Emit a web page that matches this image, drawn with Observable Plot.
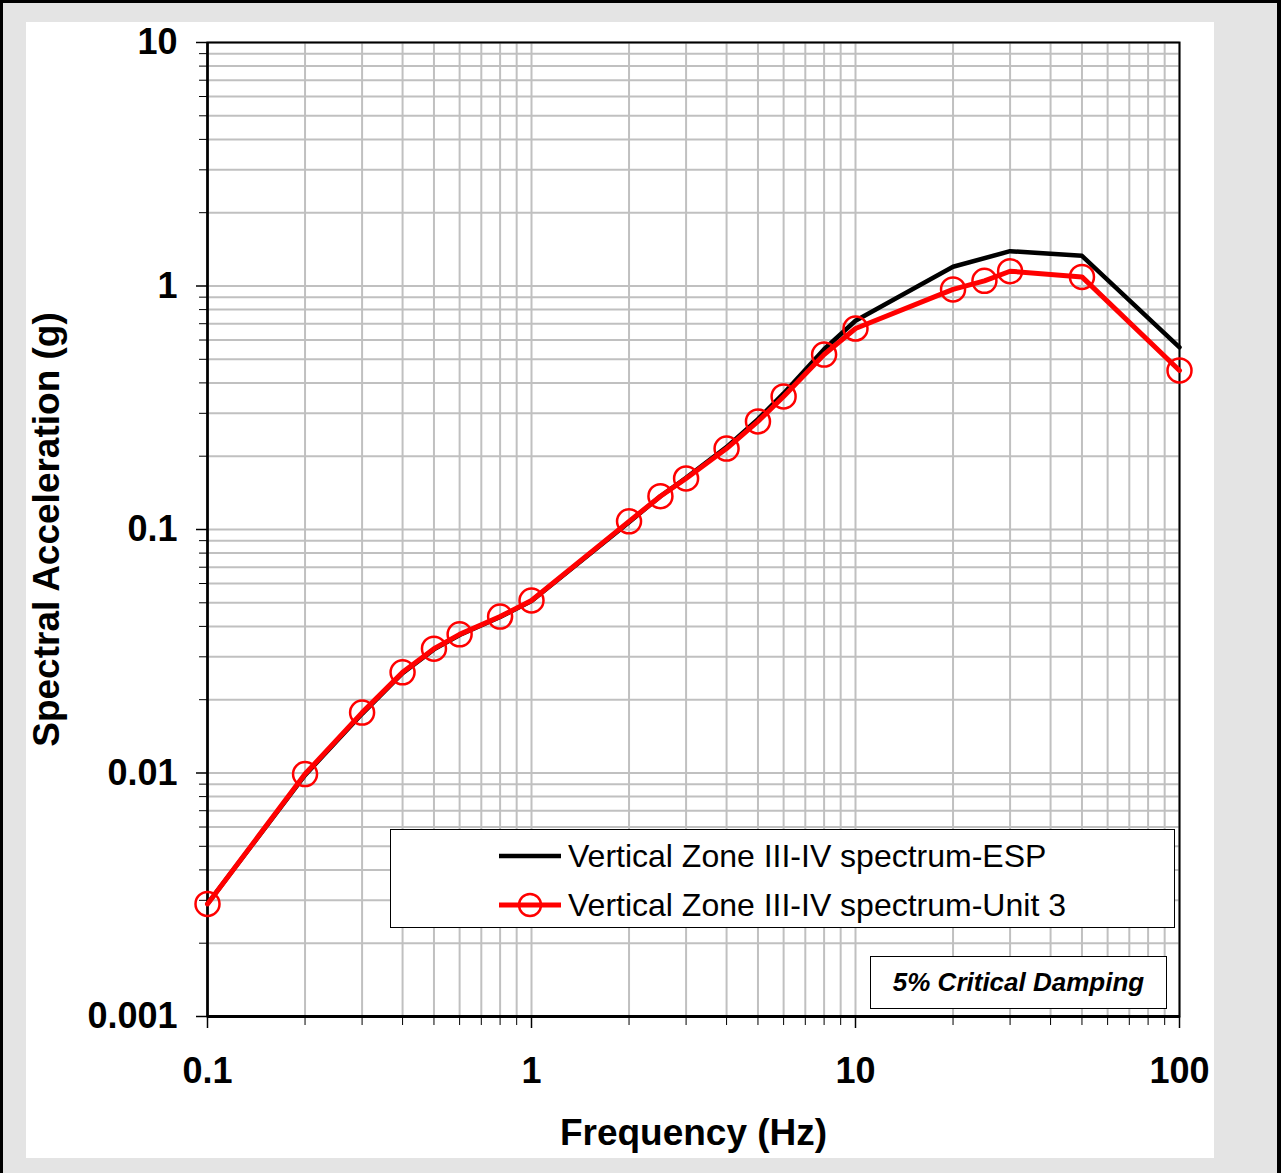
<!DOCTYPE html>
<html>
<head>
<meta charset="utf-8">
<script src="https://cdn.jsdelivr.net/npm/d3@7"></script>
<script src="https://cdn.jsdelivr.net/npm/@observablehq/plot@0.6"></script>
<style>
  html, body { margin: 0; padding: 0; background: #ffffff; }
  #page { position: relative; width: 1281px; height: 1173px; box-sizing: border-box;
          background: #e4e4e4; border-left: 3px solid #000; border-top: 3px solid #000; border-right: 4px solid #000;
          font-family: "Liberation Sans", Arial, sans-serif; overflow: hidden; }
  #panel { position: absolute; left: 23px; top: 19px; width: 1188px; height: 1136px; background: #fff; }
  #chart { position: absolute; left: -3px; top: -3px; width: 1281px; height: 1173px; }
  #chart svg { max-width: none !important; }
  .legend { position: absolute; background: #fff; border: 1px solid #000; box-sizing: border-box; }
  .entry { position: absolute; left: 0; height: 40px; display: flex; align-items: center; }
  .entry span { font-size: 32px; color: #000; white-space: nowrap; }
  #damp { position: absolute; background: #fff; border: 1.5px solid #000; box-sizing: border-box;
          display: flex; align-items: center; justify-content: center;
          font-size: 26px; font-weight: bold; font-style: italic; color: #000; }
</style>
</head>
<body>
<div id="page">
  <div id="panel"></div>
  <div id="chart"></div>
</div>
<script>
// ---- data ----
const freqUnit = [0.1, 0.2, 0.3, 0.4, 0.5, 0.6, 0.8, 1, 2, 2.5, 3, 4, 5, 6, 8, 10, 20, 25, 30, 50, 100];
const saUnit   = [0.0029, 0.0099, 0.0177, 0.0259, 0.0324, 0.0371, 0.0439, 0.0511, 0.108, 0.137, 0.162, 0.215, 0.278, 0.352, 0.523, 0.669, 0.968, 1.05, 1.15, 1.09, 0.45];
const freqEsp  = [0.1, 0.2, 0.3, 0.4, 0.5, 0.6, 0.8, 1, 2, 2.5, 3, 4, 5, 6, 8, 10, 20, 30, 50, 100];
const saEsp    = [0.0029, 0.0098, 0.0175, 0.0257, 0.0322, 0.0369, 0.0437, 0.0509, 0.107, 0.137, 0.163, 0.218, 0.284, 0.362, 0.55, 0.72, 1.20, 1.39, 1.33, 0.56];
const xMajor = [0.1, 1, 10, 100];
const yMajor = [0.001, 0.01, 0.1, 1, 10];
const xLabels = ["0.1", "1", "10", "100"];
const yLabels = ["0.001", "0.01", "0.1", "1", "10"];
const seriesNames = ["Vertical Zone III-IV spectrum-ESP", "Vertical Zone III-IV spectrum-Unit 3"];
const xTitle = "Frequency (Hz)";
const yTitle = "Spectral Acceleration (g)";
const note = "5% Critical Damping";

// ---- derived ----
const espData = freqEsp.map((f, i) => ({f, sa: saEsp[i]}));
const unitData = freqUnit.map((f, i) => ({f, sa: saUnit[i]}));
const minorOf = (majors) => {
  const out = [];
  for (let k = 0; k < majors.length - 1; k++) for (let m = 2; m <= 9; m++) out.push(majors[k] * m);
  return out;
};
const xMinor = minorOf(xMajor);
const yMinor = minorOf(yMajor);
const xAll = xMajor.concat(xMinor);
const yAll = yMajor.concat(yMinor);
const fmtX = d => xLabels[xMajor.findIndex(v => Math.abs(v - d) < 1e-9)];
const fmtY = d => yLabels[yMajor.findIndex(v => Math.abs(v - d) < 1e-12)];

const W = 1281, H = 1173;
const mL = 207, mR = 102, mT = 42, mB = 157;

const chart = Plot.plot({
  width: W, height: H,
  marginLeft: mL, marginRight: mR, marginTop: mT, marginBottom: mB,
  style: {background: "transparent", fontFamily: "'Liberation Sans', Arial, sans-serif", overflow: "visible", color: "#000", maxWidth: "none"},
  x: {type: "log", domain: [0.1, 100], label: null},
  y: {type: "log", domain: [0.001, 10], label: null},
  marks: [
    Plot.gridX(xAll, {stroke: "#c0c0c0", strokeOpacity: 1, strokeWidth: 2}),
    Plot.gridY(yAll, {stroke: "#c0c0c0", strokeOpacity: 1, strokeWidth: 2}),
    Plot.axisX(xMinor, {anchor: "bottom", tickSize: 9, tickFormat: () => "", stroke: "#000", strokeWidth: 1}),
    Plot.axisY(yMinor, {anchor: "left", tickSize: 8, tickFormat: () => "", stroke: "#000", strokeWidth: 1}),
    Plot.axisX(xMajor, {anchor: "bottom", tickSize: 12, tickPadding: 29, tickFormat: fmtX,
      fontSize: 36, fontWeight: "bold", stroke: "#000", strokeWidth: 1.5}),
    Plot.axisY(yMajor, {anchor: "left", tickSize: 11, tickPadding: 19, tickFormat: fmtY,
      fontSize: 36, fontWeight: "bold", stroke: "#000", strokeWidth: 1.5}),
    Plot.frame({stroke: "#000", strokeWidth: 2}),
    Plot.ruleY([0.001], {stroke: "#000", strokeWidth: 3}),
    Plot.ruleX([0.1], {stroke: "#000", strokeWidth: 2.5}),
    Plot.line(espData, {x: "f", y: "sa", stroke: "#000", strokeWidth: 4.5}),
    Plot.line(unitData, {x: "f", y: "sa", stroke: "#ff0000", strokeWidth: 5}),
    Plot.dot(unitData, {x: "f", y: "sa", r: 12, stroke: "#ff0000", strokeWidth: 2.5, fill: "none"}),
    Plot.text([xTitle], {frameAnchor: "bottom", dy: 117, fontSize: 37, fontWeight: "bold", lineAnchor: "middle", textAnchor: "middle"}),
    Plot.text([yTitle], {frameAnchor: "left", dx: -160, rotate: -90, fontSize: 37, fontWeight: "bold", lineAnchor: "middle", textAnchor: "middle"})
  ]
});
chart.style.maxWidth = "none";
chart.setAttribute("width", W);
chart.setAttribute("height", H);
document.getElementById("chart").appendChild(chart);

// ---- legend (HTML overlay inside plot area) ----
const page = document.getElementById("page");
const off = 3; // page border offset
const leg = document.createElement("div");
leg.className = "legend";
Object.assign(leg.style, {left: (390 - off) + "px", top: (829 - off) + "px", width: "785px", height: "99px"});
const samples = [
  {name: seriesNames[0], color: "#000", width: 4.5, dot: false, cy: 26},
  {name: seriesNames[1], color: "#ff0000", width: 5, dot: true, cy: 75}
];
samples.forEach(s => {
  const e = document.createElement("div");
  e.className = "entry";
  e.style.top = (s.cy - 20) + "px";
  e.style.left = "106px";
  const svg = `<svg width="66" height="40" style="display:block"><line x1="2" x2="64" y1="20" y2="20" stroke="${s.color}" stroke-width="${s.width}"/>${s.dot ? `<circle cx="33" cy="20" r="11" fill="none" stroke="${s.color}" stroke-width="2.5"/>` : ""}</svg>`;
  e.innerHTML = svg + `<span style="margin-left:5px">${s.name}</span>`;
  leg.appendChild(e);
});
page.appendChild(leg);

const damp = document.createElement("div");
damp.id = "damp";
Object.assign(damp.style, {left: (870 - off) + "px", top: (956 - off) + "px", width: "297px", height: "53px"});
damp.textContent = note;
page.appendChild(damp);
</script>
</body>
</html>
